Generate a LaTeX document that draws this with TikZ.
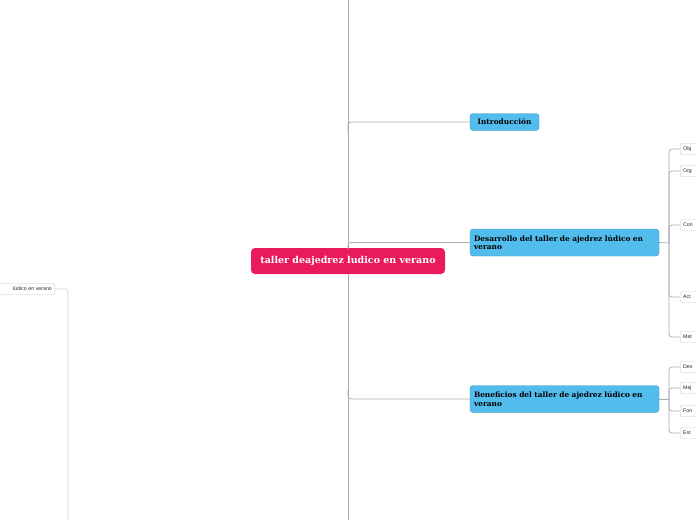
\documentclass[tikz,border=0pt]{standalone}
\usepackage{fontspec}
\setmainfont{DejaVu Serif}
\newfontfamily\smallsans{Liberation Sans}
\definecolor{rootred}{RGB}{233,27,93}
\definecolor{topicblue}{RGB}{82,188,236}
\definecolor{linegray}{RGB}{170,170,170}
\definecolor{lightgray}{RGB}{215,215,215}
\definecolor{subborder}{RGB}{200,200,200}
\tikzset{
  rootbox/.style={fill=rootred, rounded corners=4pt, text=white, font=\bfseries\fontsize{9.5}{11}\selectfont, minimum width=194pt, minimum height=26pt, inner sep=0pt},
  topicbox/.style={fill=topicblue, draw=topicblue!80!black, line width=0.3pt, rounded corners=3pt, text=black, font=\bfseries\fontsize{7.4}{8.2}\selectfont, inner sep=0pt},
  subbox/.style={draw=subborder, fill=white, rounded corners=2pt, font=\smallsans\fontsize{5.2}{6}\selectfont, text=black!85, anchor=west, minimum height=11pt, text width=40pt, inner xsep=3pt, inner ysep=0pt, align=left},
  conn/.style={draw=linegray, line width=0.7pt, rounded corners=3pt},
  lconn/.style={draw=lightgray, line width=0.8pt, rounded corners=3pt}
}
\begin{document}
\begin{tikzpicture}[x=1pt,y=-1pt]
\useasboundingbox (0,0) rectangle (696,520);
\fill[white] (0,0) rectangle (696,520);
% main spine
\coordinate (spt) at (348,0);
\coordinate (spb) at (348,520);
\draw[conn] (spt) -- (spb);
% root
\node[rootbox] (root) at (348,261) {taller deajedrez ludico en verano};
% topics
\node[topicbox, minimum width=69pt, minimum height=17pt] (intro) at (504.5,122) {Introducción};
\node[topicbox, minimum width=189pt, minimum height=27pt, text width=181pt, align=left] (des) at (564.5,242.5) {Desarrollo del taller de ajedrez lúdico en\\verano};
\node[topicbox, minimum width=189pt, minimum height=27pt, text width=181pt, align=left] (ben) at (564.5,399) {Beneficios del taller de ajedrez lúdico en\\verano};
\coordinate (b1) at (348,132);
\coordinate (b2) at (348,250);
\coordinate (b3) at (348,390);
\draw[conn] (b1) |- (intro.west);
\draw[conn] (b2) |- (des.west);
\draw[conn] (b3) |- (ben.west);
% subnodes of Desarrollo
\node[subbox] (s1) at (680,149) {Obj};
\node[subbox] (s2) at (680,171) {Org};
\node[subbox] (s3) at (680,225) {Con};
\node[subbox] (s4) at (680,297) {Act};
\node[subbox] (s5) at (680,337) {Met};
\coordinate (dj) at (669,243);
\draw[conn] (des.east) -- (dj);
\foreach \n in {s1,s2,s3,s4,s5} \draw[conn] (dj) |- (\n.west);
% subnodes of Beneficios
\node[subbox] (t1) at (680,367) {Des};
\node[subbox] (t2) at (680,388) {Mej};
\node[subbox] (t3) at (680,411) {Fon};
\node[subbox] (t4) at (680,433) {Est};
\coordinate (bj) at (669,399);
\draw[conn] (ben.east) -- (bj);
\foreach \n in {t1,t2,t3,t4} \draw[conn] (bj) |- (\n.west);
% left fragment
\node[subbox, anchor=east, text width=70pt, align=right, draw=subborder] (left) at (55,289) {lúdico en verano};
\coordinate (lb) at (68,520);
\draw[lconn] (left.east) -| (lb);
\end{tikzpicture}
\end{document}
